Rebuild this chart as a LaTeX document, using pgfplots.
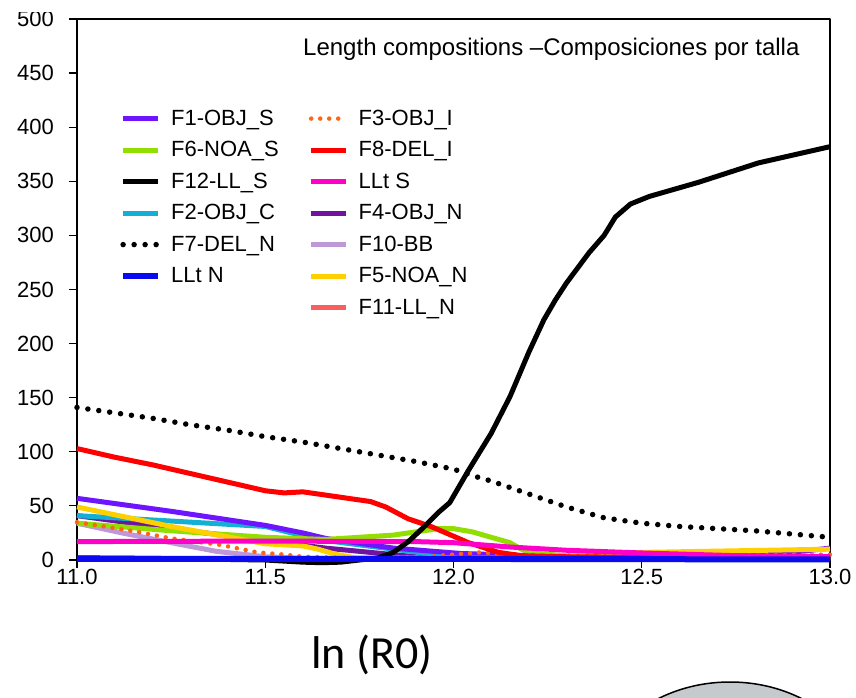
\documentclass[border=0pt]{standalone}
\usepackage{fontspec}
\setmainfont{Liberation Sans}
\newfontfamily\calib{Carlito}
\usepackage{pgfplots}
\pgfplotsset{compat=1.18}
\usetikzlibrary{calc}

\definecolor{cF1}{RGB}{110,20,255}
\definecolor{cF6}{RGB}{146,222,0}
\definecolor{cF2}{RGB}{20,175,212}
\definecolor{cLN}{RGB}{10,10,240}
\definecolor{cF3}{RGB}{255,100,20}
\definecolor{cF8}{RGB}{255,0,0}
\definecolor{cLS}{RGB}{255,0,200}
\definecolor{cF4}{RGB}{112,20,160}
\definecolor{cF10}{RGB}{190,152,215}
\definecolor{cF5}{RGB}{255,208,0}
\definecolor{cF11}{RGB}{250,95,95}
\definecolor{circ}{RGB}{196,202,205}

\tikzset{
  sF1/.style={draw=cF1, line width=5pt},
  sF6/.style={draw=cF6, line width=5pt},
  sF12/.style={draw=black, line width=5pt},
  sF2/.style={draw=cF2, line width=5pt},
  sF7/.style={draw=black, line width=5.5pt, line cap=round, dash pattern=on 0pt off 11pt},
  sLN/.style={draw=cLN, line width=6pt},
  sF3/.style={draw=cF3, line width=4.5pt, line cap=round, dash pattern=on 0pt off 9pt},
  sF8/.style={draw=cF8, line width=5pt},
  sLS/.style={draw=cLS, line width=5pt},
  sF4/.style={draw=cF4, line width=5pt},
  sF10/.style={draw=cF10, line width=5pt},
  sF5/.style={draw=cF5, line width=5pt},
  sF11/.style={draw=cF11, line width=5pt},
}

\begin{document}
\begin{tikzpicture}
\begin{axis}[name=ax, scale only axis, width=753pt, height=541pt,
  xmin=11, xmax=13, ymin=0, ymax=500,
  xtick={11,11.5,12,12.5,13}, xticklabels={11.0,11.5,12.0,12.5,13.0},
  ytick={0,50,100,150,200,250,300,350,400,450,500},
  yticklabels={0,50,100,150,200,250,300,350,400,450,500},
  font=\fontsize{22}{26}\selectfont,
  x tick label style={inner sep=1pt},
  y tick label style={inner sep=0pt, xshift=-15pt},
  tick align=outside, tick pos=left, major tick length=8pt,
  every tick/.style={black, line width=1.2pt},
  axis line style={line width=1.5pt},
  clip=false,
  legend columns=2,
  legend cell align=left,
  legend image code/.code={\draw[#1] (0pt,1pt) -- (35pt,1pt);},
  legend style={at={(axis description cs:0.057,0.832)}, anchor=north west,
    draw=none, fill=none, inner sep=0pt, row sep=12.5pt,
    nodes={inner sep=0pt, text height=15pt, text depth=4pt},
    /tikz/every odd column/.append style={column sep=10pt},
    /tikz/every even column/.append style={column sep=30pt}},
  line join=round]

% F11-LL_N
\addplot[sF11, forget plot] coordinates {(11.0,0.5) (12.0,0.5) (13.0,0.5)};
% F10-BB
\addplot[sF10, forget plot] coordinates {(11.0,34) (11.12,25) (11.25,16) (11.37,8) (11.5,3) (11.6,1.5) (12.0,1.5) (13.0,1.5)};
% F4-OBJ_N
\addplot[sF4, forget plot] coordinates {(11.0,41) (11.25,29) (11.5,18) (11.66,11) (11.75,8) (11.84,5) (11.93,2) (12.2,1.5) (13.0,1.5)};
% F2-OBJ_C
\addplot[sF2, forget plot] coordinates {(11.0,41) (11.25,36) (11.5,31) (11.57,25) (11.66,18) (11.84,10) (12.0,3) (12.5,2) (13.0,2)};
% F1-OBJ_S
\addplot[sF1, forget plot] coordinates {(11.0,57) (11.25,45) (11.5,32) (11.6,25) (11.66,20) (11.84,11) (12.02,6) (12.2,4) (12.5,3) (12.85,5) (13.0,11)};
% F6-NOA_S
\addplot[sF6, forget plot] coordinates {(11.0,34) (11.25,27) (11.5,21) (11.66,19) (11.84,23) (11.96,29) (12.0,29) (12.05,26) (12.1,21) (12.15,16) (12.18,10) (12.22,6) (12.3,4) (12.6,3) (13.0,3)};
% F5-NOA_N
\addplot[sF5, forget plot] coordinates {(11.0,49) (11.25,31) (11.5,15) (11.6,13) (11.64,10) (11.69,5) (11.74,2) (12.0,1.5) (12.2,2) (12.35,5) (12.5,7) (12.75,8.5) (13.0,10)};
% F3-OBJ_I
\addplot[sF3, forget plot] coordinates {(11.0,35) (11.16,26) (11.25,20) (11.38,14) (11.48,7) (11.55,5) (11.6,3) (11.75,1.5) (11.93,3) (12.0,5) (12.07,7) (12.12,6) (12.25,4) (12.6,4) (13.0,5)};
% F8-DEL_I
\addplot[sF8, forget plot] coordinates {(11.0,103) (11.1,95) (11.2,88) (11.3,80) (11.4,72) (11.5,64) (11.55,62) (11.6,63) (11.7,58) (11.78,54) (11.82,49) (11.88,38) (11.94,31) (11.98,25) (12.04,16) (12.12,7) (12.18,4) (12.3,3) (12.5,2.5) (13.0,2)};
% F7-DEL_N
\addplot[sF7, forget plot] coordinates {(11.0,141) (11.1,136) (11.2,131) (11.3,125) (11.4,120) (11.5,114) (11.6,109) (11.7,103) (11.8,97) (11.9,91) (12.0,84) (12.05,78) (12.1,73) (12.15,67) (12.2,61) (12.3,49) (12.4,39) (12.5,34) (12.6,31) (12.7,29) (12.8,27) (12.9,24) (13.0,21)};
% LLt S
\addplot[sLS, forget plot] coordinates {(11.0,17) (11.5,17.5) (11.9,17) (12.0,16) (12.15,12) (12.3,9) (12.5,6.5) (12.75,4) (13.0,3)};
% F12-LL_S
\addplot[sF12, forget plot] coordinates {(11.0,2) (11.2,1.5) (11.4,0.5) (11.5,0) (11.6,-2) (11.65,-2.5) (11.7,-2) (11.75,0) (11.8,2) (11.84,7) (11.88,17) (11.92,30) (11.96,44) (11.99,53) (12.04,83) (12.1,117) (12.15,151) (12.2,192) (12.24,222) (12.27,240) (12.3,256) (12.36,284) (12.4,300) (12.43,317) (12.47,329) (12.52,336) (12.65,349) (12.81,367) (13.0,382)};
% LLt N
\addplot[sLN, forget plot] coordinates {(11.0,1) (12.0,1) (13.0,0.5)};

\addlegendimage{sF1}\addlegendentry{F1-OBJ\_S}
\addlegendimage{sF3}\addlegendentry{F3-OBJ\_I}
\addlegendimage{sF6}\addlegendentry{F6-NOA\_S}
\addlegendimage{sF8}\addlegendentry{F8-DEL\_I}
\addlegendimage{sF12}\addlegendentry{F12-LL\_S}
\addlegendimage{sLS}\addlegendentry{LLt S}
\addlegendimage{sF2}\addlegendentry{F2-OBJ\_C}
\addlegendimage{sF4}\addlegendentry{F4-OBJ\_N}
\addlegendimage{sF7}\addlegendentry{F7-DEL\_N}
\addlegendimage{sF10}\addlegendentry{F10-BB}
\addlegendimage{sLN}\addlegendentry{LLt N}
\addlegendimage{sF5}\addlegendentry{F5-NOA\_N}
\addlegendimage{empty legend}\addlegendentry{}
\addlegendimage{sF11}\addlegendentry{F11-LL\_N}
\end{axis}

\node[anchor=west, font=\fontsize{24}{28}\selectfont, inner sep=0pt]
  at ($(ax.north west)+(226pt,-30pt)$) {Length compositions –Composiciones por talla};
\node[font=\calib\fontsize{46}{52}\selectfont, inner sep=0pt]
  at ($(ax.south west)+(295pt,-95pt)$) {ln (R0)};
\draw[line width=1.5pt, fill=circ] ($(ax.south west)+(653pt,-240pt)$) ellipse [x radius=140pt, y radius=118pt];
% white strip over the top of the 500 label, as in the cropped original
\fill[white] ($(ax.north west)+(-77pt,19pt)$) rectangle ($(ax.north west)+(-2pt,7pt)$);

\pgfresetboundingbox
\path[use as bounding box] ($(ax.south west)+(-77pt,-138pt)$) rectangle ($(ax.north east)+(26pt,19pt)$);
\end{tikzpicture}
\end{document}
